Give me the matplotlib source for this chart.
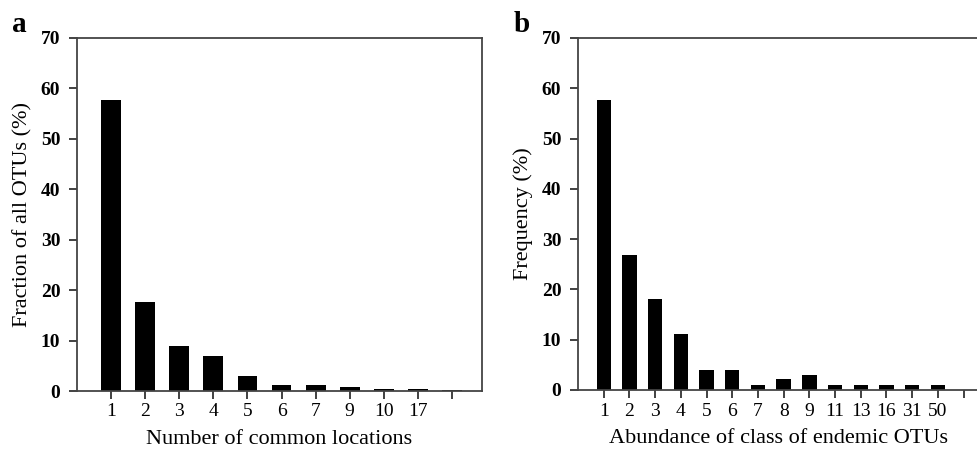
import matplotlib.pyplot as plt

# panel a
a_labels = ['1', '2', '3', '4', '5', '6', '7', '9', '10', '17', '']
a_values = [57.7, 17.6, 9.0, 6.9, 3.0, 1.2, 1.2, 0.7, 0.4, 0.4, 0.15]

# panel b
b_labels = ['1', '2', '3', '4', '5', '6', '7', '8', '9', '11', '13', '16', '31', '50', '']
b_values = [57.7, 26.9, 18.0, 11.1, 4.0, 4.0, 1.05, 2.1, 3.0, 1.0, 1.0, 1.0, 1.0, 1.0, 0]

plt.rcParams['font.family'] = ['Liberation Serif', 'DejaVu Serif']

fig = plt.figure(figsize=(9.77, 4.5), dpi=100)
ax1 = fig.add_axes([77/977, 59/450, 405/977, 353/450])
ax2 = fig.add_axes([578/977, 60/450, 401/977, 352/450])

def style(ax, labels, values, xmax, width, xlabel, ylabel):
    pos = list(range(1, len(labels) + 1))
    ax.bar(pos, values, width=width, color='black')
    ax.set_xlim(0, xmax)
    ax.set_ylim(0, 70)
    ax.set_xticks(pos)
    ax.set_xticklabels(labels, fontsize=14)
    ax.set_yticks(range(0, 71, 10))
    ax.set_yticklabels([str(v) for v in range(0, 71, 10)], fontsize=14, fontweight='bold')
    ax.tick_params(direction='out', length=6, width=1.3, color='#333333')
    ax.tick_params(axis='y', pad=6)
    ax.tick_params(axis='x', pad=3)
    for s in ax.spines.values():
        s.set_color('#444444')
        s.set_linewidth(1.3)
    ax.set_xlabel(xlabel, fontsize=16, labelpad=7)
    ax.set_ylabel(ylabel, fontsize=16, labelpad=6)

style(ax1, a_labels, a_values, 11.88, 0.58, 'Number of common locations', 'Fraction of all OTUs (%)')
style(ax2, b_labels, b_values, 15.6, 0.56, 'Abundance of class of endemic OTUs', 'Frequency (%)')

fig.text(12/977, 1 - 25/450, 'a', fontsize=21, fontweight='bold', va='center')
fig.text(514/977, 1 - 25/450, 'b', fontsize=21, fontweight='bold', va='center')

fig.savefig('out.png', dpi=100)
